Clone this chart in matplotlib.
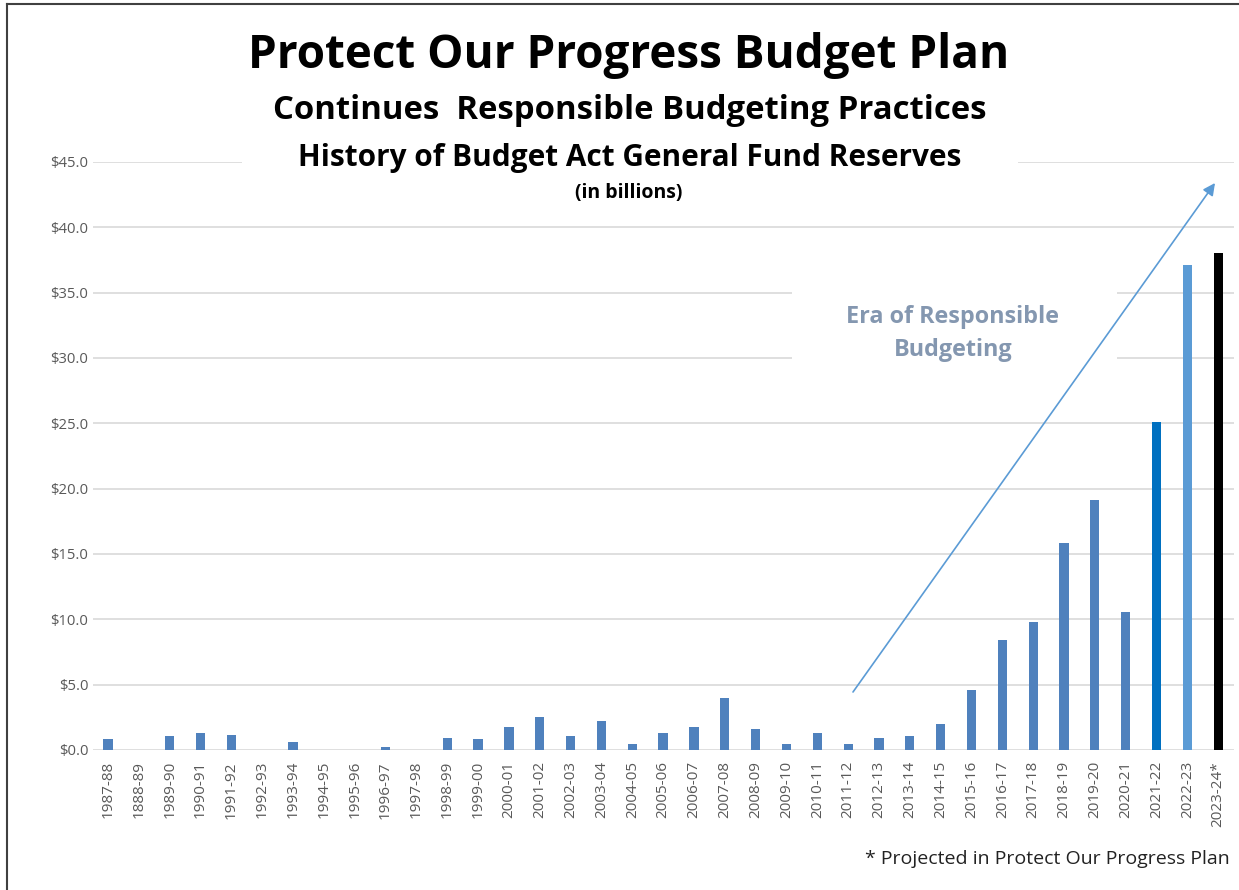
import numpy as np
import matplotlib.pyplot as plt
from matplotlib.patches import Rectangle

# ---- data (in billions) ----
years = [
    "1987-88", "1888-89", "1989-90", "1990-91", "1991-92", "1992-93", "1993-94",
    "1994-95", "1995-96", "1996-97", "1997-98", "1998-99", "1999-00", "2000-01",
    "2001-02", "2002-03", "2003-04", "2004-05", "2005-06", "2006-07", "2007-08",
    "2008-09", "2009-10", "2010-11", "2011-12", "2012-13", "2013-14", "2014-15",
    "2015-16", "2016-17", "2017-18", "2018-19", "2019-20", "2020-21", "2021-22",
    "2022-23", "2023-24*",
]
reserves = [
    0.84, 0.0, 1.05, 1.28, 1.15, 0.0, 0.61,
    0.0, 0.0, 0.26, 0.0, 0.94, 0.84, 1.73,
    2.52, 1.05, 2.19, 0.48, 1.30, 1.73, 4.0,
    1.63, 0.48, 1.30, 0.48, 0.94, 1.05, 1.96,
    4.59, 8.42, 9.8, 15.84, 19.1, 10.58, 25.1,
    37.1, 38.0,
]
yticks = [0, 5, 10, 15, 20, 25, 30, 35, 40, 45]

base_color = "#4F81BD"
special = {"2021-22": "#0070C0", "2022-23": "#5B9BD5", "2023-24*": "#000000"}
colors = [special.get(y, base_color) for y in years]

W, H = 1239, 890
fig = plt.figure(figsize=(W / 100, H / 100), dpi=100)

ax = fig.add_axes([92.6 / W, 1 - 750 / H, 1141 / W, 588 / H])
x = np.arange(len(years))
ax.bar(x, reserves, width=0.30, color=colors, zorder=2)

ax.set_xlim(-0.5, len(years) - 0.5)
ax.set_ylim(0, 45)
ax.set_yticks(yticks)
ax.set_yticklabels([f"${v:.1f}" for v in yticks], fontsize=10.7, color="#595959",
                   family="Open Sans")
ax.set_xticks(x)
ax.set_xticklabels(years, rotation=90, fontsize=11, color="#595959", family="Open Sans")
ax.tick_params(axis="both", length=0)
ax.tick_params(axis="x", pad=8)
ax.tick_params(axis="y", pad=3)
ax.grid(axis="y", color="#D9D9D9", linewidth=1.2, zorder=0)
ax.set_axisbelow(True)
for s in ["top", "right", "left", "bottom"]:
    ax.spines[s].set_visible(False)

# white boxes that sit behind the titles / annotation text
fig.patches.append(Rectangle((242 / W, 1 - 175 / H), 776 / W, 30 / H,
                             transform=fig.transFigure, facecolor="white",
                             edgecolor="none", zorder=3))
fig.patches.append(Rectangle((792 / W, 1 - 366 / H), 325 / W, 82 / H,
                             transform=fig.transFigure, facecolor="white",
                             edgecolor="none", zorder=3))

# outer frame (left and top edges visible in the screenshot)
fig.add_artist(plt.Line2D([7 / W, 7 / W], [0, 1 - 4 / H], transform=fig.transFigure,
                          color="#404040", linewidth=1.5))
fig.add_artist(plt.Line2D([7 / W, 1], [1 - 4 / H, 1 - 4 / H], transform=fig.transFigure,
                          color="#404040", linewidth=1.5))

tfont = "Open Sans"
fig.text(629 / W, 1 - 68 / H, "Protect Our Progress Budget Plan", ha="center",
         va="baseline", fontsize=33, fontweight="bold", family=tfont, zorder=5)
fig.text(630 / W, 1 - 119 / H, "Continues  Responsible Budgeting Practices", ha="center",
         va="baseline", fontsize=23.7, fontweight="bold", family=tfont, zorder=5)
fig.text(630 / W, 1 - 166 / H, "History of Budget Act General Fund Reserves", ha="center",
         va="baseline", fontsize=21.4, fontweight="bold", family=tfont, zorder=5)
fig.text(629 / W, 1 - 198 / H, "(in billions)", ha="center", va="baseline",
         fontsize=14, fontweight="bold", family=tfont, zorder=5)

fig.text(953 / W, 1 - 323 / H, "Era of Responsible", ha="center", va="baseline",
         fontsize=16.8, fontweight="bold", family=tfont, color="#8497B0", zorder=5)
fig.text(953 / W, 1 - 356 / H, "Budgeting", ha="center", va="baseline",
         fontsize=16.8, fontweight="bold", family=tfont, color="#8497B0", zorder=5)

# arrow
ax_arrow = fig.add_axes([0, 0, 1, 1], facecolor="none")
ax_arrow.set_zorder(6)
ax_arrow.set_xlim(0, W)
ax_arrow.set_ylim(H, 0)
ax_arrow.axis("off")
ax_arrow.annotate("", xy=(1215, 183), xytext=(853, 692),
                  arrowprops=dict(arrowstyle="-|>", color="#5B9BD5", lw=1.2,
                                  mutation_scale=18, shrinkA=0, shrinkB=0))

fig.text(1230 / W, 1 - 864 / H, "* Projected in Protect Our Progress Plan", ha="right",
         va="baseline", fontsize=14, family="Open Sans", color="#222222")

fig.savefig("out.png", dpi=100)
